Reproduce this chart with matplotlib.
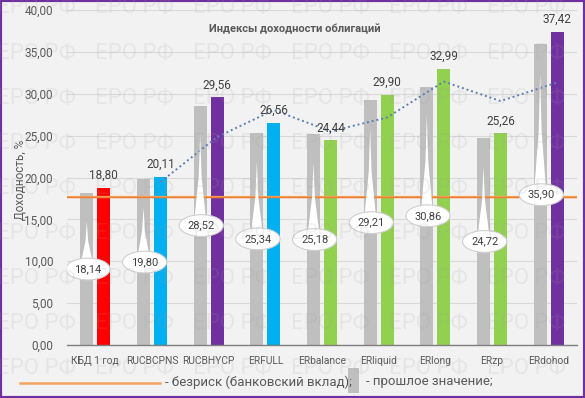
import matplotlib
matplotlib.use('Agg')
import matplotlib.pyplot as plt
from matplotlib.patches import Ellipse, Polygon, Rectangle
from matplotlib.lines import Line2D
from matplotlib.ticker import FuncFormatter, MultipleLocator

categories = ['КБД 1 год', 'RUCBCPNS', 'RUCBHYCP', 'ERFULL', 'ERbalance',
              'ERliquid', 'ERlong', 'ERzp', 'ERdohod']
current = [18.80, 20.11, 29.56, 26.56, 24.44, 29.90, 32.99, 25.26, 37.42]
previous = [18.14, 19.80, 28.52, 25.34, 25.18, 29.21, 30.86, 24.72, 35.90]
trend = [19.46, 24.84, 28.06, 25.50, 27.17, 31.45, 29.13, 31.34]  # 2-period moving avg, from 2nd category
risk_free = 17.7
bar_colors = ['#ff0000', '#00b0f0', '#7030a0', '#00b0f0', '#92d050',
              '#92d050', '#92d050', '#92d050', '#7030a0']

plt.rcParams['font.family'] = ['Roboto', 'DejaVu Sans']

W, H = 585, 398
fig = plt.figure(figsize=(W / 100, H / 100), dpi=100, facecolor='#f2f2f2')

def fx(px):
    return px / W

def fy(py):
    return 1 - py / H

def fmt(v):
    return f'{v:.2f}'.replace('.', ',')

ax = fig.add_axes([fx(67), fy(345), fx(577) - fx(67), fy(10) - fy(345)])
ax.set_facecolor('none')
ax.set_xlim(-0.5, len(categories) - 0.5)
ax.set_ylim(0, 40)
ax.yaxis.set_major_locator(MultipleLocator(5))
ax.yaxis.set_major_formatter(FuncFormatter(lambda v, p: fmt(v)))
ax.grid(axis='y', color='#d9d9d9', linewidth=0.8, zorder=0)
ax.set_axisbelow(True)
for s in ['top', 'right', 'left']:
    ax.spines[s].set_visible(False)
ax.spines['bottom'].set_color('#7f7f7f')
ax.spines['bottom'].set_linewidth(1.0)
ax.tick_params(axis='y', length=0, labelsize=8.5, labelcolor='#595959', pad=10)
ax.tick_params(axis='x', length=0, labelsize=7.4, labelcolor='#595959', pad=8)
x = list(range(len(categories)))
ax.set_xticks(x)
ax.set_xticklabels(categories)

bw = 0.23
off = 0.15
xg = [i - off for i in x]
xc = [i + off for i in x]
ax.bar(xg, previous, width=bw, color='#bfbfbf', zorder=2)
ax.bar(xc, current, width=bw, color=bar_colors, zorder=2)

# risk-free line
ax.axhline(risk_free, color='#f4a460', linewidth=1.6, zorder=3)
ax.axhline(risk_free, color='#ed7d31', linewidth=1.0, zorder=3)

# trend line (moving average) at current bars
ax.plot(xc[1:], trend, linestyle=(0, (1, 1.5)), color='#5b7fb5', linewidth=1.4, zorder=4)

# labels above current bars
for xi, v in zip(xc, current):
    ax.annotate(fmt(v), (xi, v), xytext=(0, 4), textcoords='offset points',
                ha='center', va='bottom', fontsize=8.5, color='#404040', zorder=6)

# callouts for previous values
for xi, v in zip(xg, previous):
    cy = v / 2
    tip = v - 3.4
    base = cy + 0.9
    mid = (tip + base) / 2
    poly = Polygon([(xi, tip), (xi + 0.025, mid), (xi + 0.10, base),
                    (xi - 0.10, base), (xi - 0.025, mid)],
                   closed=True, facecolor='white', edgecolor='none', zorder=5)
    ax.add_patch(poly)
    e = Ellipse((xi + 0.02, cy), width=0.78, height=2.6, facecolor='white',
                edgecolor='#cfcfcf', linewidth=0.8, zorder=5)
    ax.add_patch(e)
    ax.text(xi + 0.02, cy, fmt(v), ha='center', va='center', fontsize=8,
            color='#404040', zorder=6)

# title and y label
fig.text(fx(295), fy(29), 'Индексы доходности облигаций', ha='center', va='center',
         fontsize=8, fontweight='bold', color='#595959')
fig.text(fx(20), fy(180), 'Доходность, %', ha='center', va='center', rotation=90,
         fontsize=8.5, color='#595959')

# custom legend at bottom
fig.add_artist(Line2D([fx(20), fx(160)], [fy(383), fy(383)], color='#f4a460', linewidth=1.8))
fig.text(fx(165), fy(382), '- безриск (банковский вклад);', ha='left', va='center',
         fontsize=9.5, color='#595959')
fig.add_artist(Rectangle((fx(348), fy(393)), fx(359) - fx(348), fy(368) - fy(393),
                         transform=fig.transFigure, facecolor='#bfbfbf', edgecolor='none'))
fig.text(fx(366), fy(382), '- прошлое значение;', ha='left', va='center',
         fontsize=9.5, color='#595959')

# watermark
for row in range(9):
    for col in range(6):
        fig.text(fx(-3 + 98 * col), fy(8 + 45.1 * row), 'ЕРО РФ', ha='left', va='center',
                 fontsize=16, color='#a0a0a0', alpha=0.15, zorder=10)

# border
fig.add_artist(Rectangle((0, 0), 1, 1, transform=fig.transFigure, facecolor='none',
                         edgecolor='#7030a0', linewidth=3))

fig.savefig('out.png', dpi=100, facecolor=fig.get_facecolor())
